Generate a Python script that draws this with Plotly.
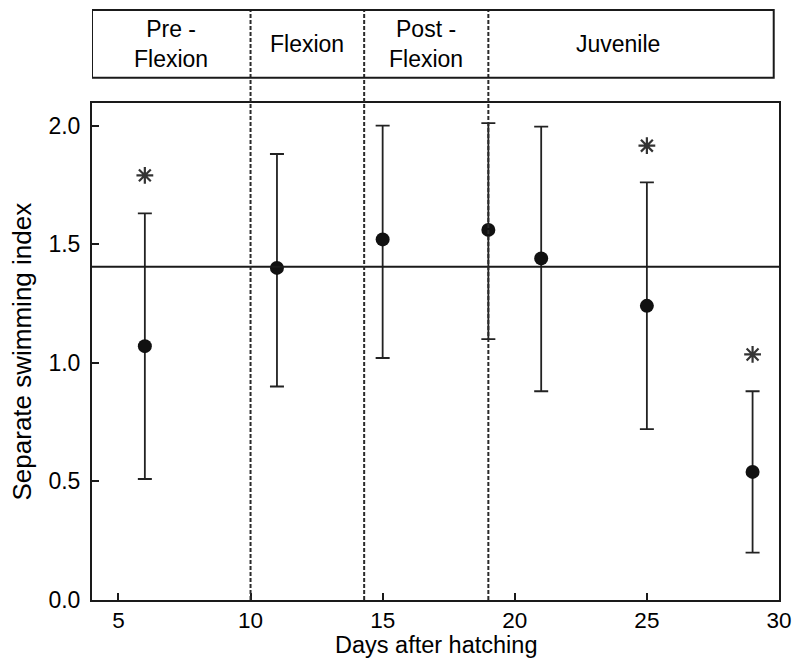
import plotly.graph_objects as go

# ---- data ----
days = [6, 11, 15, 19, 21, 25, 29]
index_mean = [1.07, 1.40, 1.52, 1.56, 1.44, 1.24, 0.54]
err_upper = [1.63, 1.88, 2.00, 2.01, 1.995, 1.76, 0.88]
err_lower = [0.51, 0.90, 1.02, 1.10, 0.88, 0.72, 0.20]

sig_days = [6, 25, 29]
sig_y = [1.79, 1.915, 1.035]

reference_level = 1.405
stage_bounds = [10, 14.3, 19]
stage_names = ["Pre -<br>Flexion", "Flexion", "Post -<br>Flexion", "Juvenile"]
stage_label_x = [7, 12.15, 16.65, 23.9]

x_ticks = [5, 10, 15, 20, 25, 30]
y_ticks = [0.0, 0.5, 1.0, 1.5, 2.0]

err_plus = [u - m for u, m in zip(err_upper, index_mean)]
err_minus = [m - l for m, l in zip(index_mean, err_lower)]

FONT = "Liberation Sans, Arial, sans-serif"
INK = "#1a1a1a"

fig = go.Figure()

fig.add_trace(go.Scatter(
    x=days, y=index_mean, mode="markers",
    marker=dict(color="#111111", size=14),
    error_y=dict(type="data", symmetric=False, array=err_plus, arrayminus=err_minus,
                 color="#222222", thickness=1.8, width=7),
    showlegend=False,
))

fig.add_trace(go.Scatter(
    x=sig_days, y=sig_y, mode="markers",
    marker=dict(symbol="asterisk-open", size=14, color="#333333",
                line=dict(color="#333333", width=2.2)),
    showlegend=False,
))

# reference horizontal line
fig.add_shape(type="line", xref="paper", yref="y", x0=0, x1=1,
              y0=reference_level, y1=reference_level, line=dict(color=INK, width=2))

# stage boundaries (dashed), spanning plot and stage box
top_box_y0 = 1.051
top_box_y1 = 1.187
for b in stage_bounds:
    fig.add_shape(type="line", xref="x", yref="paper", x0=b, x1=b, y0=0, y1=top_box_y1,
                  line=dict(color="#2a2a2a", width=2, dash="4px,2px"))

# stage box
fig.add_shape(type="rect", xref="x", yref="paper", x0=4, x1=29.8,
              y0=top_box_y0, y1=top_box_y1, line=dict(color=INK, width=2),
              fillcolor="rgba(0,0,0,0)")

for name, lx in zip(stage_names, stage_label_x):
    fig.add_annotation(x=lx, xref="x", y=(top_box_y0 + top_box_y1) / 2, yref="paper",
                       text=name, showarrow=False, yanchor="middle",
                       font=dict(family=FONT, size=23, color="#000000"))

# axis titles
fig.add_annotation(x=0.5, xref="paper", y=0, yref="paper", yshift=-45,
                   text="Days after hatching", showarrow=False, yanchor="middle",
                   font=dict(family=FONT, size=23.5, color="#000000"))
fig.add_annotation(x=0, xref="paper", y=0.5, yref="paper", xshift=-71,
                   text="Separate swimming index", showarrow=False, textangle=-90,
                   xanchor="center", yanchor="middle",
                   font=dict(family=FONT, size=26, color="#000000"))

fig.update_layout(
    width=797, height=658,
    margin=dict(l=92, r=18, t=103, b=58, autoexpand=False),
    paper_bgcolor="white", plot_bgcolor="white",
    font=dict(family=FONT, size=23, color="#000000"),
    xaxis=dict(range=[4, 30], tickvals=x_ticks, ticks="inside", ticklen=7, tickwidth=2,
               tickcolor=INK, showline=True, mirror=True, linecolor=INK, linewidth=2,
               showgrid=False, zeroline=False, automargin=False,
               ticklabelstandoff=-1, tickfont=dict(size=22.5)),
    yaxis=dict(range=[0, 2.095], tickvals=y_ticks, tickformat=".1f", ticks="inside",
               ticklen=7, tickwidth=2, tickcolor=INK, showline=True, mirror=True,
               linecolor=INK, linewidth=2, showgrid=False, zeroline=False, automargin=False,
               ticklabelstandoff=5, tickfont=dict(size=23)),
)

fig.write_html("out.html", config={"displayModeBar": False},
               post_script="document.body.style.margin='0';document.body.style.overflow='hidden';")
